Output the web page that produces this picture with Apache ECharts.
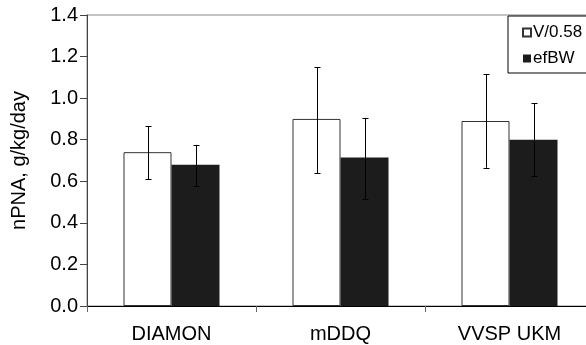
<!DOCTYPE html>
<html><head><meta charset="utf-8">
<script src="https://cdn.jsdelivr.net/npm/echarts@6/dist/echarts.min.js"></script>
<style>html,body{margin:0;padding:0;background:#fff}#c{width:586px;height:345px}</style>
</head><body><div id="c"></div>
<script>
const categories = ['DIAMON', 'mDDQ', 'VVSP UKM'];
const seriesNames = ['V/0.58', 'efBW'];
const valuesV = [0.74, 0.90, 0.89];
const valuesEf = [0.68, 0.715, 0.80];
const errHighV = [0.865, 1.15, 1.115];
const errLowV = [0.61, 0.64, 0.665];
const errHighEf = [0.775, 0.905, 0.975];
const errLowEf = [0.575, 0.515, 0.625];
const yTicks = [0, 0.2, 0.4, 0.6, 0.8, 1.0, 1.2, 1.4];

const FONT = 'Liberation Sans, Arial, sans-serif';
const BAR_W = 48;

function errData(low, high) {
  return categories.map((c, i) => [i, low[i], high[i]]);
}
function errRender(offset) {
  return function (params, api) {
    const x = api.value(0);
    const lo = api.coord([x, api.value(1)]);
    const hi = api.coord([x, api.value(2)]);
    const cx = Math.round(lo[0] + offset) + 0.5;
    const cap = 3;
    const style = { stroke: '#000', lineWidth: 1 };
    return {
      type: 'group',
      children: [
        { type: 'line', shape: { x1: cx, y1: hi[1], x2: cx, y2: lo[1] }, style },
        { type: 'line', shape: { x1: cx - cap, y1: Math.round(hi[1]) + 0.5, x2: cx + cap, y2: Math.round(hi[1]) + 0.5 }, style },
        { type: 'line', shape: { x1: cx - cap, y1: Math.round(lo[1]) + 0.5, x2: cx + cap, y2: Math.round(lo[1]) + 0.5 }, style }
      ]
    };
  };
}

const chart = echarts.init(document.getElementById('c'), null, { renderer: 'canvas' });
chart.setOption({
  animation: false,
  textStyle: { fontFamily: FONT },
  grid: { left: 87, top: 15, height: 291, width: 507, containLabel: false, outerBoundsMode: 'none',
          show: true, borderColor: '#888', borderWidth: 1, backgroundColor: 'transparent' },
  legend: {
    data: seriesNames,
    orient: 'vertical',
    left: 508, top: 16,
    itemWidth: 8, itemHeight: 8, itemGap: 9,
    icon: 'rect',
    borderColor: '#000', borderWidth: 1, borderRadius: 0,
    padding: [8, 6, 6, 14],
    textStyle: { fontFamily: FONT, fontSize: 17, color: '#000', padding: [0, 0, 0, -3] }
  },
  xAxis: {
    type: 'category',
    data: categories,
    axisLine: { lineStyle: { color: '#000', width: 1 } },
    axisTick: { show: true, length: 6, lineStyle: { color: '#666' } },
    axisLabel: { fontFamily: FONT, fontSize: 20, color: '#000', margin: 18 }
  },
  yAxis: {
    type: 'value', min: 0, max: 1.4, interval: 0.2,
    name: 'nPNA, g/kg/day', nameLocation: 'middle', nameGap: 58, nameRotate: 90,
    nameTextStyle: { fontFamily: FONT, fontSize: 20, color: '#000' },
    axisLine: { show: true, lineStyle: { color: '#444', width: 1 } },
    axisTick: { show: true, length: 7, lineStyle: { color: '#444' } },
    splitLine: { show: false },
    axisLabel: { fontFamily: FONT, fontSize: 20, color: '#000', margin: 9, formatter: v => v.toFixed(1) }
  },
  series: [
    { name: seriesNames[0], type: 'bar', data: valuesV, barWidth: BAR_W, barGap: '0%',
      itemStyle: { color: '#fff', borderColor: '#333', borderWidth: 1 } },
    { name: seriesNames[1], type: 'bar', data: valuesEf, barWidth: BAR_W, barGap: '0%',
      itemStyle: { color: '#1c1c1c', borderColor: '#1c1c1c', borderWidth: 0 } },
    { type: 'custom', data: errData(errLowV, errHighV), renderItem: errRender(-BAR_W / 2), z: 5, silent: true },
    { type: 'custom', data: errData(errLowEf, errHighEf), renderItem: errRender(BAR_W / 2), z: 5, silent: true }
  ]
});
</script></body></html>
